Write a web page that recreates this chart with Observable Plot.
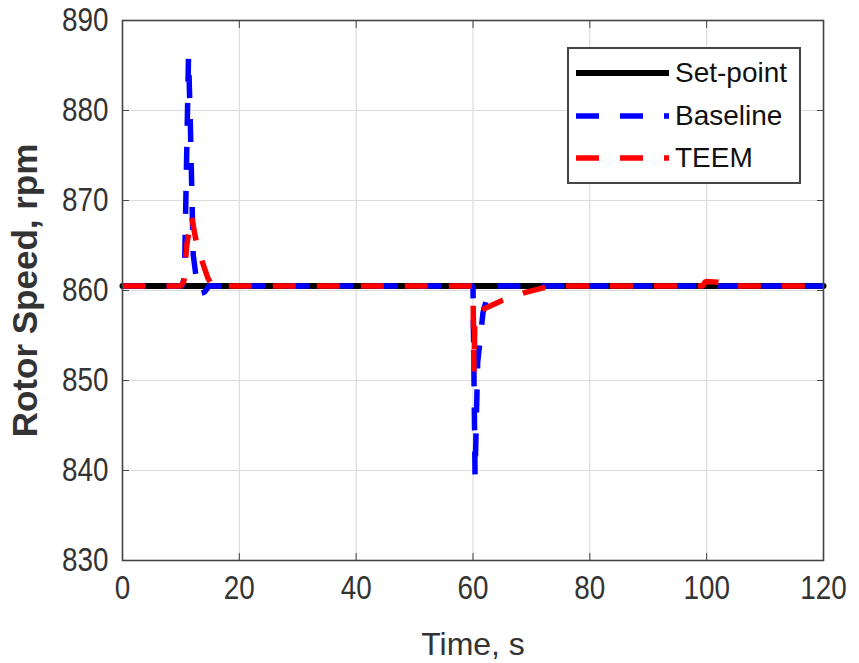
<!DOCTYPE html>
<html>
<head>
<meta charset="utf-8">
<script src="https://cdn.jsdelivr.net/npm/d3@7"></script>
<script src="https://cdn.jsdelivr.net/npm/@observablehq/plot@0.6"></script>
<style>
  html, body { margin: 0; padding: 0; background: #fff; }
  #wrap { position: relative; width: 859px; height: 663px; }
  #legend { position: absolute; left: 567px; top: 47px; width: 230px; height: 133px;
            border: 2px solid #444; background: #fff; box-sizing: content-box; }
  .lrow { position: absolute; left: 0; height: 30px; }
  .lrow span { position: absolute; left: 106px; top: -2px; font: 28px "Liberation Sans", Arial, sans-serif; color: #111; white-space: nowrap; }
  .lrow svg { position: absolute; left: 7px; top: 0; }
</style>
</head>
<body>
<div id="wrap"></div>
<script>
// ---- data ----
const seriesNames = ["Set-point", "Baseline", "TEEM"];
const seriesColors = ["#000000", "#0000ff", "#ff0000"];

const setTime = [0, 120];
const setVal  = [860.5, 860.5];

const baseTime = [0, 10.2, 10.6, 11.3, 11.6, 12.1, 12.7, 13.4, 14.0, 14.8,
                  60.0, 60.35, 60.8, 61.3, 61.7, 62.5, 63.2, 64.5, 120];
const baseVal  = [860.5, 860.5, 861.5, 886, 879, 864, 861, 859.7, 859.8, 860.5,
                  860.5, 839.4, 852, 855, 857.5, 859.5, 860.2, 860.5, 860.5];

const teemTime = [0, 10.0, 10.5, 11.0, 11.8, 12.6, 13.5, 14.6, 15.4,
                  60.0, 60.15, 60.35, 62.0, 65.0, 69.0, 72.0, 75.0,
                  99.3, 99.8, 102.8, 103.3, 120];
const teemVal  = [860.5, 860.5, 861, 865, 868.3, 865.5, 863.5, 861.4, 860.5,
                  860.5, 851, 857.5, 858.0, 858.9, 859.8, 860.3, 860.5,
                  860.5, 861, 860.9, 860.5, 860.5];

const xTicks = [0, 20, 40, 60, 80, 100, 120];
const yTicks = [830, 840, 850, 860, 870, 880, 890];
const xLabel = "Time, s";
const yLabel = "Rotor Speed, rpm";

// ---- tables ----
const toRows = (ts, vs) => ts.map((t, i) => ({t, v: vs[i]}));
const setRows = toRows(setTime, setVal);
const baseRows = toRows(baseTime, baseVal);
const teemRows = toRows(teemTime, teemVal);

const dash = "23,21";
const tickFont = '"Liberation Sans", Arial, sans-serif';

const chart = Plot.plot({
  width: 859,
  height: 663,
  marginLeft: 122,
  marginRight: 36,
  marginTop: 20,
  marginBottom: 103,
  style: {background: "#fff", overflow: "visible"},
  x: {domain: [0, 120]},
  y: {domain: [830, 890]},
  marks: [
    Plot.gridX(xTicks, {stroke: "#dcdcdc", strokeOpacity: 1, strokeWidth: 1.2}),
    Plot.gridY(yTicks, {stroke: "#dcdcdc", strokeOpacity: 1, strokeWidth: 1.2}),
    Plot.line(setRows, {x: "t", y: "v", stroke: seriesColors[0], strokeWidth: 6}),
    Plot.line(baseRows, {x: "t", y: "v", stroke: seriesColors[1], strokeWidth: 5.5,
      strokeDasharray: dash, strokeLinecap: "butt", strokeLinejoin: "miter"}),
    Plot.line(teemRows, {x: "t", y: "v", stroke: seriesColors[2], strokeWidth: 5.5,
      strokeDasharray: dash, strokeLinecap: "butt", strokeLinejoin: "miter"}),
    Plot.frame({stroke: "#444", strokeWidth: 1.6}),
    Plot.axisX(xTicks, {anchor: "bottom", tickSize: 0, tickPadding: 14, label: null,
      fontSize: 34, fontFamily: tickFont, fill: "#333"}),
    Plot.axisY(yTicks, {anchor: "left", tickSize: 0, tickPadding: 14, label: null,
      fontSize: 34, fontFamily: tickFont, fill: "#333"}),
    Plot.axisX(xTicks, {anchor: "bottom", tickSize: -7, tickFormat: () => "", label: null, stroke: "#444"}),
    Plot.axisX(xTicks, {anchor: "top", tickSize: -7, tickFormat: () => "", label: null, stroke: "#444"}),
    Plot.axisY(yTicks, {anchor: "left", tickSize: -7, tickFormat: () => "", label: null, stroke: "#444"}),
    Plot.axisY(yTicks, {anchor: "right", tickSize: -7, tickFormat: () => "", label: null, stroke: "#444"}),
    Plot.text([xLabel], {x: 60, y: 830, text: d => d, dy: 84, fontSize: 32,
      fontFamily: '"Liberation Sans", Arial, sans-serif', fill: "#333"}),
    Plot.text([yLabel], {x: 0, y: 860, text: d => d, rotate: -90, dx: -97, fontSize: 35,
      fontWeight: "bold", fontFamily: '"Liberation Sans", Arial, sans-serif', fill: "#333"})
  ]
});

const wrap = document.getElementById("wrap");
wrap.appendChild(chart);

// narrow (condensed) tick labels like the reference
d3.select(chart).selectAll('g[aria-label="x-axis tick label"] text, g[aria-label="y-axis tick label"] text')
  .each(function() {
    if (!this.textContent) return;
    const w = this.getComputedTextLength();
    this.setAttribute("textLength", (w * 0.82).toFixed(1));
    this.setAttribute("lengthAdjust", "spacingAndGlyphs");
  });

// legend overlay
const legend = document.createElement("div");
legend.id = "legend";
const rowsY = [10, 53, 95];
seriesNames.forEach((name, i) => {
  const row = document.createElement("div");
  row.className = "lrow";
  row.style.top = rowsY[i] + "px";
  row.style.width = "228px";
  const isDash = i > 0;
  row.innerHTML = `<svg width="95" height="30"><line x1="0" x2="93" y1="14" y2="14" stroke="${seriesColors[i]}" stroke-width="${isDash ? 5.5 : 6}" ${isDash ? `stroke-dasharray="${dash}"` : ""}/></svg><span>${name}</span>`;
  legend.appendChild(row);
});
wrap.appendChild(legend);
</script>
</body>
</html>
